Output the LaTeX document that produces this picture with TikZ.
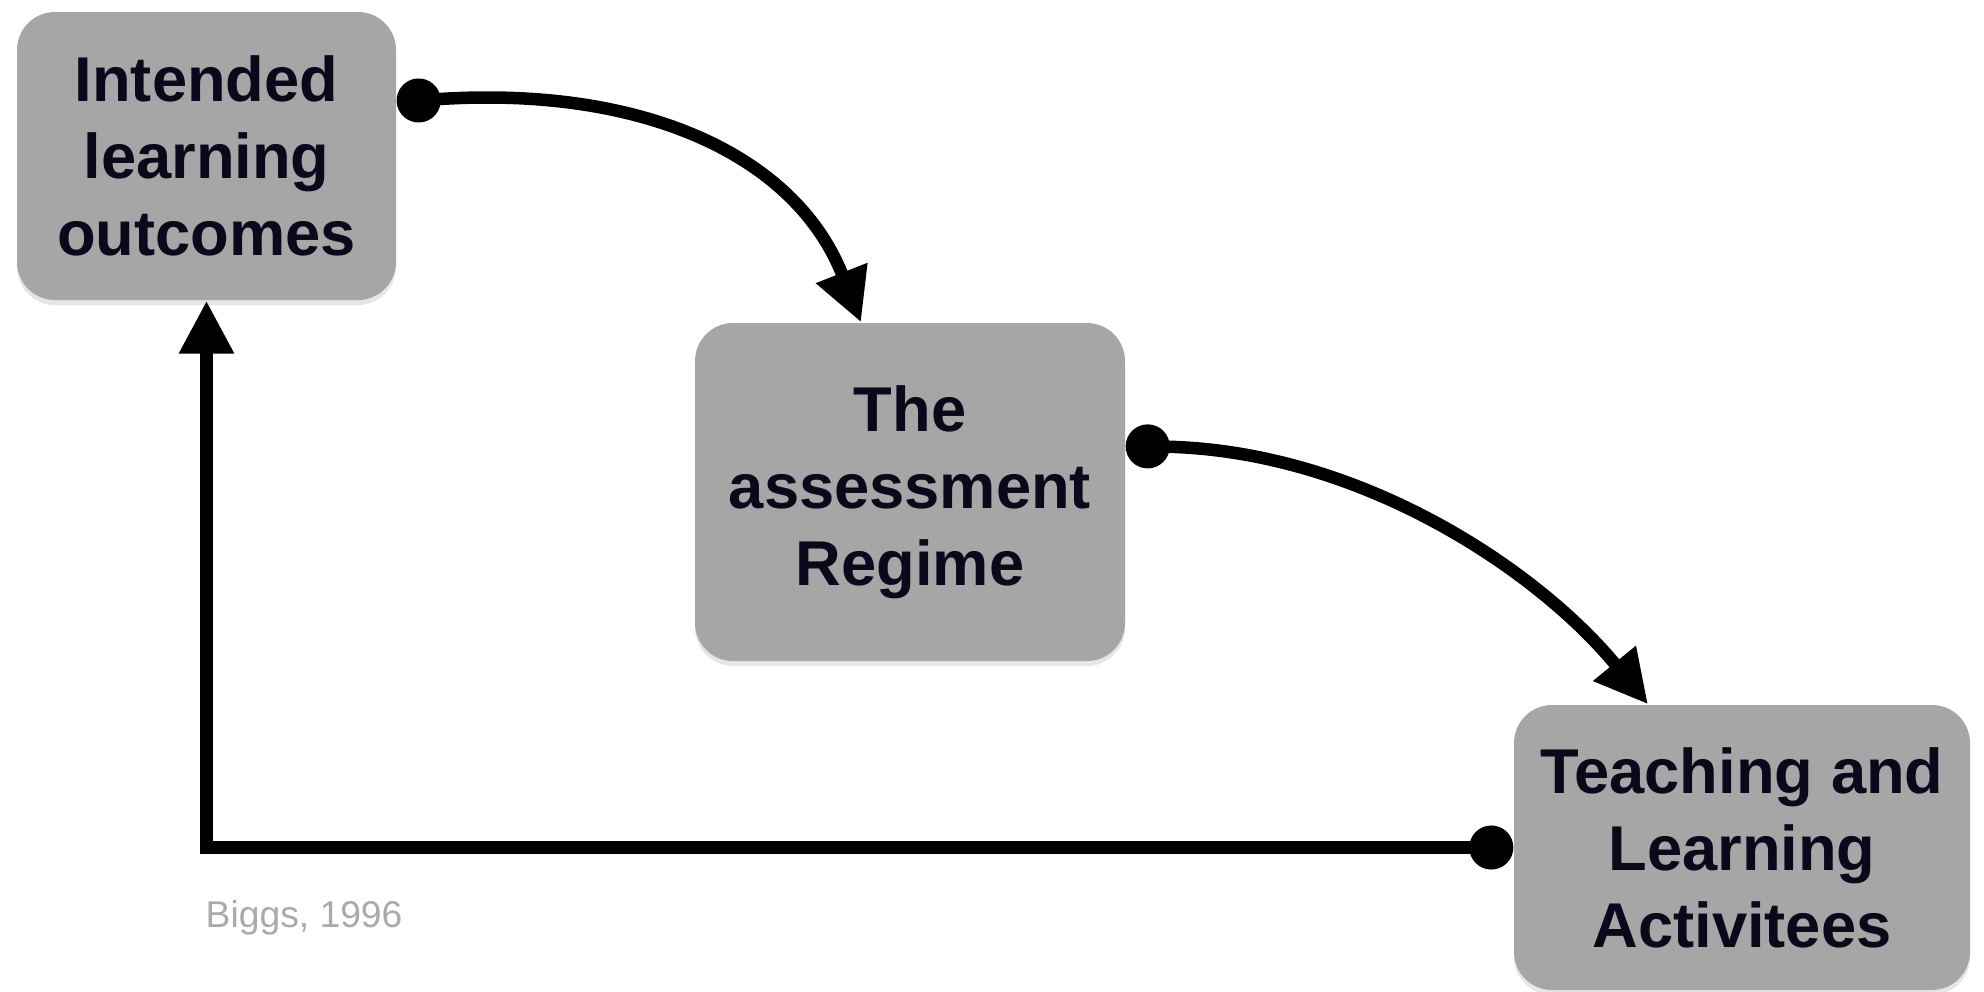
\documentclass[tikz,border=0pt]{standalone}
\usepackage{fontspec}
\setmainfont{Liberation Sans}
\usetikzlibrary{arrows.meta,calc,shadows}
\definecolor{boxgray}{RGB}{166,166,166}
\definecolor{ink}{RGB}{10,8,26}
\definecolor{citegray}{RGB}{170,170,170}
\begin{document}
\begin{tikzpicture}[x=0.1mm,y=-0.1mm,
  box/.style={fill=boxgray, rounded corners=3.8mm, text=ink,
    font=\fontsize{18}{21.9}\selectfont\bfseries, align=center, inner sep=0pt,
    drop shadow={shadow xshift=0mm, shadow yshift=-0.5mm, opacity=0.2}},
  conn/.style={line width=1.25mm, draw=black,
    {Circle[length=4.4mm]}-{Triangle[length=5.3mm,width=5.2mm]}}]
\useasboundingbox (0,0) rectangle (1984,992);
\node[box, minimum width=37.9mm, minimum height=28.8mm] (b1) at (206.5,156) {Intended\\learning\\outcomes};
\node[box, minimum width=43mm, minimum height=33.8mm] (b2) at (910,492) {The\\assessment\\Regime};
\node[box, minimum width=45.6mm, minimum height=28.5mm] (b3) at (1742,847.5) {Teaching and\\Learning\\Activitees};
\node[anchor=base west, inner sep=0pt, text=citegray, font=\fontsize{10.6}{12}\selectfont] (cite) at (205,927) {Biggs, 1996};
\draw[conn] ($(b1.east)+(0,-54)$) .. controls ($(b1.east)+(244,-71)$) and ($(b2.north)+(-115,-168)$) .. ($(b2.north)+(-49,0)$);
\draw[conn] ($(b2.east)+(0,-46)$) .. controls ($(b2.east)+(235,-42)$) and ($(b3.north)+(-203,-133)$) .. ($(b3.north)+(-94,0)$);
\draw[conn] (b3.west) -| (b1.south);
\end{tikzpicture}
\end{document}
